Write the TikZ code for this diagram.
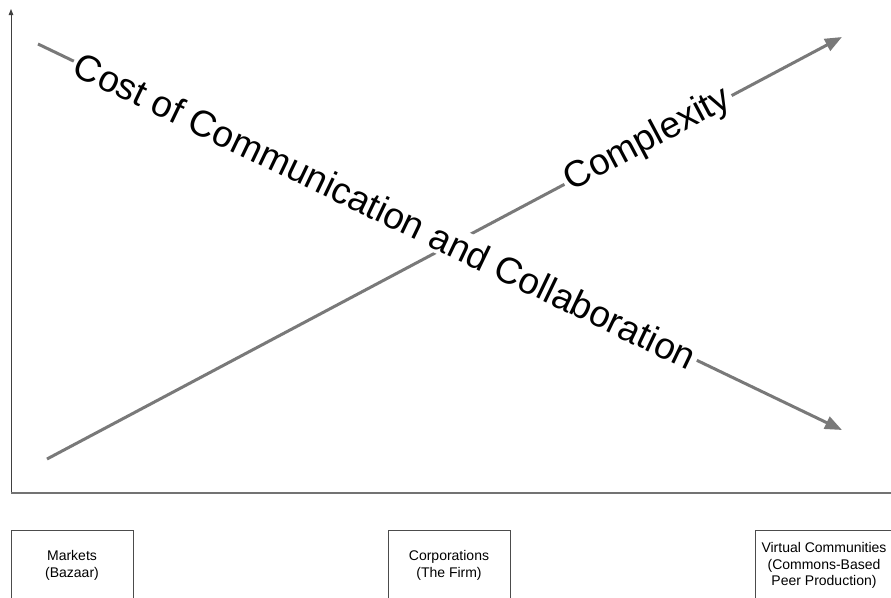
\documentclass[tikz,border=0pt]{standalone}
\usepackage{fontspec}
\setmainfont{Liberation Sans}
\usetikzlibrary{arrows.meta}
\tikzset{
  trend/.style={draw=gray!95!black, line width=3pt, -{Triangle[length=17pt,width=13pt]}},
  trendlabel/.style={sloped, fill=white, inner sep=3pt, text=black,
    font=\fontsize{37}{44}\selectfont},
  orgbox/.style={draw=black!70, line width=0.8pt, minimum width=122pt, minimum height=70pt,
    anchor=north, align=center, font=\fontsize{14}{16.5}\selectfont, text=black}
}
\begin{document}
\begin{tikzpicture}[x=1pt,y=-1pt]
  \clip (0,0) rectangle (891,597);
  \fill[white] (0,0) rectangle (891,597);
  % axes
  \coordinate (origin) at (11,493);
  \coordinate (ytop) at (11,9);
  \coordinate (xend) at (891,493);
  \draw[black!75, line width=0.9pt, -{Triangle[length=6pt,width=4.5pt]}] (origin) -- (ytop);
  \draw[black!55, line width=1.6pt] (origin) -- (xend);
  % complexity rising
  \coordinate (cx1) at (47,459);
  \coordinate (cx2) at (842,37);
  \draw[trend] (cx1) -- node[trendlabel, pos=0.756] (complexity) {Complexity} (cx2);
  % cost falling
  \coordinate (cc1) at (38,44);
  \coordinate (cc2) at (842,430);
  \draw[trend] (cc1) -- node[trendlabel, pos=0.432] (cost) {Cost of Communication and Collaboration} (cc2);
  % organisations
  \node[orgbox] (markets) at (72,530) {Markets\\(Bazaar)};
  \node[orgbox] (firm) at (449,530) {Corporations\\(The Firm)};
  \node[orgbox, minimum width=138pt] (commons) at (824,530) {Virtual Communities\\(Commons-Based\\Peer Production)};
\end{tikzpicture}
\end{document}
